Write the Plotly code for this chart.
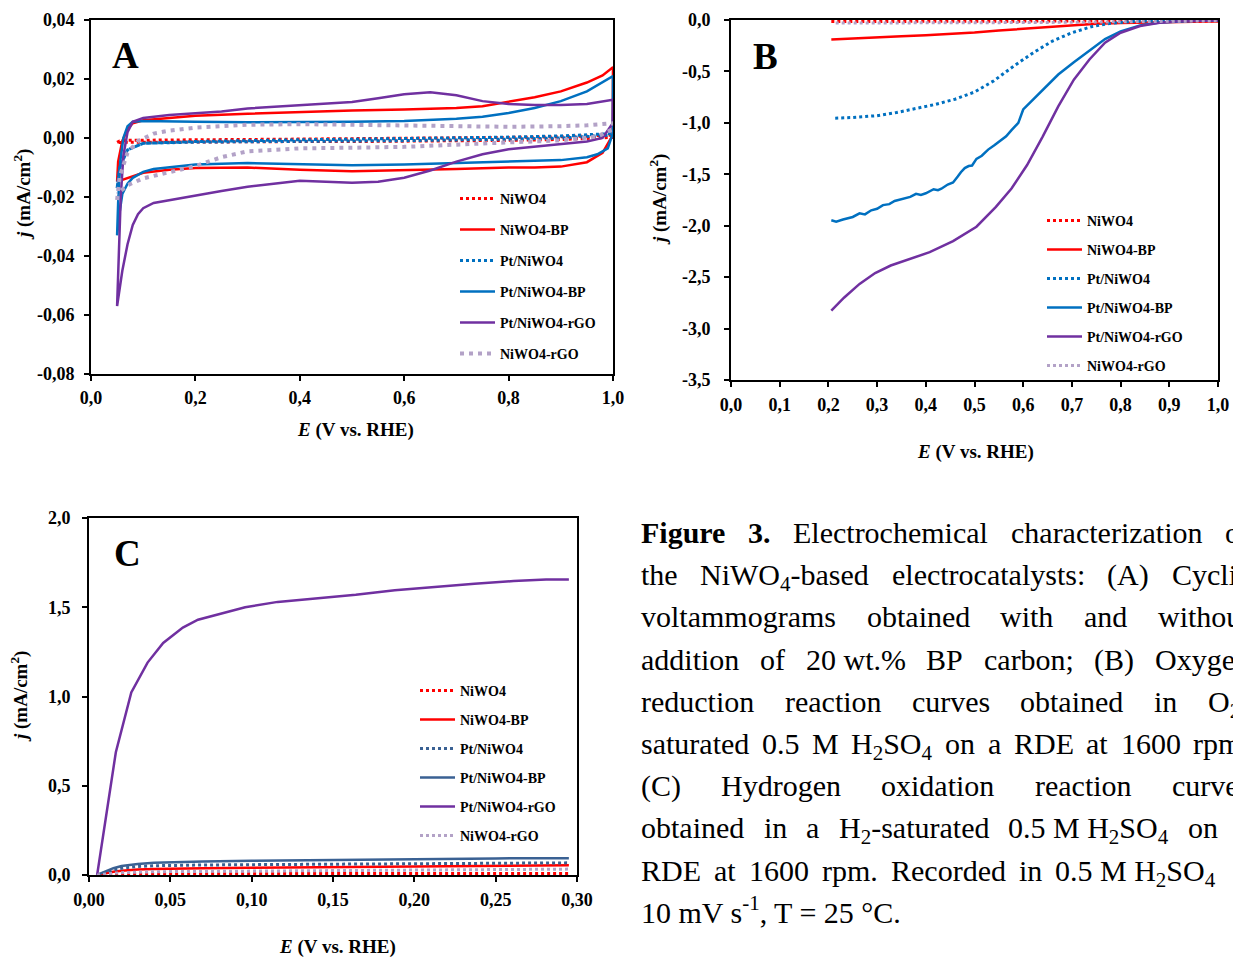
import re
import plotly.graph_objects as go

W, H = 1233, 958
FONT = "Liberation Serif"

# ---------------- Panel A : cyclic voltammograms ----------------
a_nio_x = [0.05, 0.055, 0.07, 0.1, 0.2, 0.3, 0.4, 0.5, 0.6, 0.7, 0.8, 0.9, 0.95, 1.0,
           1.0, 0.95, 0.9, 0.8, 0.7, 0.6, 0.5, 0.4, 0.3, 0.2, 0.1, 0.07, 0.055, 0.05]
a_nio_y = [-0.0015, -0.0010, -0.0008, -0.0007, -0.0006, -0.0005, -0.0004, -0.0003, -0.0002, 0.0, 0.0002, 0.0004, 0.0006, 0.0010,
           0.0002, -0.0002, -0.0005, -0.0008, -0.0010, -0.0011, -0.0012, -0.0012, -0.0013, -0.0013, -0.0013, -0.0014, -0.0015, -0.0015]

a_bp_x = [0.05, 0.052, 0.06, 0.07, 0.08, 0.1, 0.15, 0.2, 0.3, 0.4, 0.5, 0.6, 0.7, 0.75, 0.8, 0.85, 0.9, 0.95, 0.98, 1.0,
          0.9995, 0.98, 0.95, 0.9, 0.85, 0.8, 0.7, 0.6, 0.5, 0.4, 0.3, 0.2, 0.15, 0.1, 0.07, 0.05]
a_bp_y = [-0.0148, -0.008, -0.001, 0.003, 0.005, 0.006, 0.0068, 0.0075, 0.0082, 0.0088, 0.0093, 0.0097, 0.0102, 0.0108, 0.0122, 0.0138, 0.0158, 0.0188, 0.0212, 0.0240,
          0.0010, -0.0050, -0.0082, -0.0097, -0.0100, -0.0100, -0.0105, -0.0110, -0.0113, -0.0108, -0.0100, -0.0102, -0.0108, -0.0118, -0.0135, -0.0148]

a_pt_x = [0.05, 0.055, 0.07, 0.1, 0.2, 0.3, 0.4, 0.5, 0.6, 0.7, 0.8, 0.9, 0.95, 1.0,
          1.0, 0.95, 0.9, 0.8, 0.7, 0.6, 0.5, 0.4, 0.3, 0.2, 0.1, 0.07, 0.055, 0.05]
a_pt_y = [-0.017, -0.010, -0.004, -0.0018, -0.0012, -0.0008, -0.0006, -0.0004, -0.0002, 0.0, 0.0003, 0.0007, 0.0010, 0.0015,
          0.0010, 0.0004, 0.0, -0.0004, -0.0007, -0.0009, -0.0010, -0.0011, -0.0012, -0.0014, -0.0018, -0.004, -0.010, -0.017]

a_ptbp_x = [0.05, 0.052, 0.056, 0.062, 0.07, 0.08, 0.1, 0.15, 0.2, 0.3, 0.4, 0.5, 0.6, 0.7, 0.75, 0.8, 0.85, 0.9, 0.95, 1.0,
            0.9995, 0.99, 0.97, 0.95, 0.9, 0.8, 0.7, 0.6, 0.5, 0.4, 0.3, 0.2, 0.15, 0.12, 0.1, 0.08, 0.07, 0.06, 0.055, 0.05]
a_ptbp_y = [-0.033, -0.022, -0.008, 0.0, 0.004, 0.0055, 0.0058, 0.0056, 0.0055, 0.0053, 0.0053, 0.0055, 0.0058, 0.0065, 0.0072, 0.0085, 0.0102, 0.0125, 0.0158, 0.0210,
            0.0015, -0.0035, -0.0055, -0.0065, -0.0075, -0.0080, -0.0085, -0.0090, -0.0092, -0.0088, -0.0085, -0.0090, -0.0098, -0.0105, -0.0115, -0.0135, -0.0155, -0.019, -0.025, -0.033]

a_rgo_x = [0.05, 0.053, 0.057, 0.062, 0.07, 0.08, 0.1, 0.15, 0.2, 0.25, 0.3, 0.4, 0.5, 0.55, 0.6, 0.65, 0.7, 0.75, 0.8, 0.85, 0.9, 0.95, 1.0,
           0.9995, 0.98, 0.95, 0.9, 0.85, 0.8, 0.75, 0.7, 0.65, 0.6, 0.55, 0.5, 0.45, 0.4, 0.35, 0.3, 0.25, 0.2, 0.15, 0.12, 0.1, 0.09, 0.08, 0.07, 0.06, 0.05]
a_rgo_y = [-0.057, -0.040, -0.020, -0.006, 0.002, 0.0055, 0.0068, 0.0078, 0.0085, 0.0090, 0.0100, 0.0110, 0.0122, 0.0135, 0.0148, 0.0155, 0.0145, 0.0125, 0.0115, 0.0112, 0.0112, 0.0115, 0.0130,
           0.0050, 0.0, -0.0012, -0.0020, -0.0028, -0.0038, -0.0055, -0.0080, -0.0110, -0.0135, -0.0148, -0.0152, -0.0148, -0.0145, -0.0155, -0.0165, -0.0180, -0.0195, -0.0210, -0.0220, -0.0238, -0.0258, -0.0295, -0.0360, -0.0450, -0.0570]

a_nrgo_x = [0.05, 0.055, 0.07, 0.09, 0.12, 0.15, 0.2, 0.3, 0.4, 0.5, 0.6, 0.7, 0.8, 0.9, 0.95, 1.0,
            0.9995, 0.97, 0.9, 0.8, 0.7, 0.6, 0.5, 0.4, 0.3, 0.25, 0.2, 0.15, 0.1, 0.07, 0.05]
a_nrgo_y = [-0.021, -0.013, -0.005, -0.001, 0.0015, 0.0025, 0.0035, 0.0045, 0.0047, 0.0045, 0.0043, 0.0040, 0.0038, 0.0040, 0.0043, 0.0050,
            0.0030, 0.0005, -0.0008, -0.0015, -0.0022, -0.0030, -0.0033, -0.0035, -0.0045, -0.0065, -0.0095, -0.0115, -0.0137, -0.0160, -0.0190]

# ---------------- Panel B : ORR curves ----------------
b_nio_x = [0.206, 0.3, 0.4, 0.5, 0.6, 0.7, 0.8, 0.9, 1.0]
b_nio_y = [-0.015, -0.015, -0.014, -0.014, -0.013, -0.012, -0.010, -0.008, -0.006]
b_bp_x = [0.206, 0.25, 0.3, 0.35, 0.4, 0.45, 0.5, 0.55, 0.6, 0.65, 0.7, 0.75, 0.8, 0.85, 0.9, 0.95, 1.0]
b_bp_y = [-0.189, -0.178, -0.168, -0.158, -0.148, -0.136, -0.122, -0.102, -0.085, -0.066, -0.050, -0.037, -0.028, -0.022, -0.018, -0.016, -0.015]
b_pt_x = [0.214, 0.25, 0.3, 0.34, 0.38, 0.42, 0.46, 0.5, 0.54, 0.58, 0.62, 0.66, 0.7, 0.74, 0.78, 0.82, 0.86, 0.9, 0.95, 1.0]
b_pt_y = [-0.955, -0.948, -0.93, -0.90, -0.86, -0.82, -0.77, -0.70, -0.59, -0.45, -0.32, -0.205, -0.124, -0.065, -0.033, -0.016, -0.008, -0.005, -0.004, -0.003]
b_ptbp_x = [0.206, 0.216, 0.23, 0.25, 0.264, 0.275, 0.288, 0.30, 0.312, 0.325, 0.336, 0.35, 0.368, 0.38, 0.39, 0.40, 0.416, 0.425,
            0.432, 0.445, 0.456, 0.466, 0.472, 0.48, 0.488, 0.495, 0.504, 0.515, 0.528, 0.54, 0.552, 0.565, 0.576, 0.59, 0.6,
            0.624, 0.648, 0.672, 0.704, 0.736, 0.768, 0.8, 0.84, 0.88, 0.92, 0.96, 1.0]
b_ptbp_y = [-1.947, -1.96, -1.94, -1.915, -1.88, -1.89, -1.85, -1.835, -1.80, -1.79, -1.76, -1.74, -1.72, -1.69, -1.70, -1.685, -1.645, -1.655,
            -1.64, -1.60, -1.58, -1.52, -1.48, -1.44, -1.42, -1.415, -1.35, -1.32, -1.26, -1.22, -1.18, -1.13, -1.07, -1.00, -0.87,
            -0.76, -0.65, -0.53, -0.41, -0.295, -0.185, -0.11, -0.052, -0.024, -0.012, -0.007, -0.005]
b_rgo_x = [0.206, 0.232, 0.264, 0.296, 0.328, 0.368, 0.408, 0.456, 0.504, 0.544, 0.576, 0.608, 0.64, 0.672, 0.704, 0.736, 0.768, 0.8, 0.84, 0.88, 0.92, 0.96, 1.0]
b_rgo_y = [-2.826, -2.70, -2.566, -2.46, -2.387, -2.32, -2.257, -2.15, -2.01, -1.817, -1.638, -1.41, -1.133, -0.84, -0.58, -0.384, -0.22, -0.124, -0.059, -0.026, -0.012, -0.007, -0.005]
b_nrgo_x = [0.215, 0.3, 0.4, 0.5, 0.6, 0.7, 0.8, 0.9, 1.0]
b_nrgo_y = [-0.03, -0.03, -0.028, -0.027, -0.025, -0.022, -0.018, -0.012, -0.008]

# ---------------- Panel C : HOR curves ----------------
c_x = [0.005, 0.01, 0.015, 0.02, 0.025, 0.03, 0.04, 0.05, 0.07, 0.1, 0.15, 0.2, 0.25, 0.295]
c_nio_y = [0.0, 0.003, 0.005, 0.006, 0.007, 0.007, 0.008, 0.008, 0.008, 0.008, 0.009, 0.009, 0.009, 0.009]
c_bp_y = [0.0, 0.010, 0.018, 0.024, 0.028, 0.031, 0.034, 0.036, 0.038, 0.040, 0.044, 0.048, 0.052, 0.054]
c_pt_y = [0.0, 0.015, 0.028, 0.038, 0.044, 0.048, 0.052, 0.054, 0.056, 0.058, 0.061, 0.064, 0.067, 0.068]
c_ptbp_y = [0.0, 0.020, 0.038, 0.050, 0.057, 0.062, 0.068, 0.072, 0.076, 0.080, 0.085, 0.089, 0.093, 0.094]
c_nrgo_y = [0.0, 0.006, 0.010, 0.013, 0.015, 0.016, 0.018, 0.019, 0.020, 0.022, 0.025, 0.028, 0.031, 0.033]
c_rgo_x = [0.005, 0.0165, 0.026, 0.036, 0.0456, 0.0577, 0.067, 0.079, 0.096, 0.116, 0.14, 0.164, 0.188, 0.213, 0.237, 0.261, 0.281, 0.295]
c_rgo_y = [0.0, 0.688, 1.023, 1.19, 1.30, 1.386, 1.43, 1.46, 1.50, 1.53, 1.55, 1.57, 1.595, 1.615, 1.632, 1.647, 1.656, 1.656]

series_names = ["NiWO4", "NiWO4-BP", "Pt/NiWO4", "Pt/NiWO4-BP", "Pt/NiWO4-rGO", "NiWO4-rGO"]

# tick labels
a_xticks = [0, 0.2, 0.4, 0.6, 0.8, 1.0]
a_xtext = ["0,0", "0,2", "0,4", "0,6", "0,8", "1,0"]
a_yticks = [0.04, 0.02, 0.0, -0.02, -0.04, -0.06, -0.08]
a_ytext = ["0,04", "0,02", "0,00", "-0,02", "-0,04", "-0,06", "-0,08"]
b_xticks = [0, 0.1, 0.2, 0.3, 0.4, 0.5, 0.6, 0.7, 0.8, 0.9, 1.0]
b_xtext = ["0,0", "0,1", "0,2", "0,3", "0,4", "0,5", "0,6", "0,7", "0,8", "0,9", "1,0"]
b_yticks = [0, -0.5, -1.0, -1.5, -2.0, -2.5, -3.0, -3.5]
b_ytext = ["0,0", "-0,5", "-1,0", "-1,5", "-2,0", "-2,5", "-3,0", "-3,5"]
c_xticks = [0, 0.05, 0.10, 0.15, 0.20, 0.25, 0.30]
c_xtext = ["0,00", "0,05", "0,10", "0,15", "0,20", "0,25", "0,30"]
c_yticks = [0, 0.5, 1.0, 1.5, 2.0]
c_ytext = ["0,0", "0,5", "1,0", "1,5", "2,0"]

# caption (justified lines; the last line is set ragged)
caption_lines = [
    ["<b>Figure</b>", "<b>3.</b>", "Electrochemical", "characterization", "of"],
    ["the", "NiWO<sub>4</sub>-based", "electrocatalysts:", "(A)", "Cyclic"],
    ["voltammograms", "obtained", "with", "and", "without"],
    ["addition", "of", "20 wt.%", "BP", "carbon;", "(B)", "Oxygen"],
    ["reduction", "reaction", "curves", "obtained", "in", "O<sub>2</sub>-"],
    ["saturated", "0.5", "M", "H<sub>2</sub>SO<sub>4</sub>", "on", "a", "RDE", "at", "1600", "rpm;"],
    ["(C)", "Hydrogen", "oxidation", "reaction", "curves"],
    ["obtained", "in", "a", "H<sub>2</sub>-saturated", "0.5 M H<sub>2</sub>SO<sub>4</sub>", "on", "a"],
    ["RDE", "at", "1600", "rpm.", "Recorded", "in", "0.5 M H<sub>2</sub>SO<sub>4</sub>", "at"],
    ["10 mV s<sup>-1</sup>, T = 25 °C."],
]
caption_baseline = [543, 585, 627, 670, 712, 754, 796, 838, 881, 923]
CAP_LEFT, CAP_RIGHT, CAP_SIZE = 641, 1250, 30
VISIBLE_EDGE = 1227  # words of the column that start beyond the page crop are not visible

# Times-compatible advance widths (per 1000 em) for measuring the caption words
TIMES_REG = {" ": 250, "%": 833, "(": 333, ")": 333, ",": 250, "-": 333, ".": 250, "/": 278, ":": 278,
             ";": 278, "=": 564, "°": 400,
             "A": 722, "B": 667, "C": 667, "D": 722, "E": 611, "F": 556, "G": 722, "H": 722, "I": 333,
             "M": 889, "N": 722, "O": 722, "P": 556, "R": 667, "S": 556, "T": 611, "V": 722, "W": 944,
             "a": 444, "b": 500, "c": 444, "d": 500, "e": 444, "f": 333, "g": 500, "h": 500, "i": 278,
             "l": 278, "m": 778, "n": 500, "o": 500, "p": 500, "r": 333, "s": 389, "t": 278, "u": 500,
             "v": 500, "w": 722, "x": 500, "y": 500, "z": 444}
TIMES_BOLD = {" ": 250, ".": 250, "F": 611, "i": 278, "g": 500, "u": 556, "r": 444, "e": 444}


def text_width(markup, size):
    w = 0.0
    bold = False
    scale = 1.0
    for part in re.split(r"(<[^>]+>)", markup):
        if not part:
            continue
        if part.startswith("<"):
            tag = part.strip("<>/").lower()
            closing = part.startswith("</")
            if tag == "b":
                bold = not closing
            elif tag in ("sub", "sup"):
                scale = 1.0 if closing else 0.7
            continue
        table = TIMES_BOLD if bold else TIMES_REG
        for ch in part:
            if ch.isdigit():
                w += 500 * scale
            else:
                w += table.get(ch, TIMES_REG.get(ch, 500)) * scale
    return w * size / 1000.0


RED = "#FF0000"
BLUE = "#0070C0"
DBLUE = "#3A6193"
PURPLE = "#7030A0"
LAV = "#B3A2C7"


def px(x):
    return x / W


def py(y):
    return 1 - y / H


fig = go.Figure()


def add(x, y, name, color, dash, width, xa, ya, leg):
    fig.add_trace(go.Scatter(
        x=x, y=y, mode="lines", name=name, legendgroup=leg + name, legend=leg,
        line=dict(color=color, dash=dash, width=width), xaxis=xa, yaxis=ya,
    ))


DOT = "3px,3px"
LDOT = "4px,5px"
# Panel A
add(a_nio_x, a_nio_y, series_names[0], RED, DOT, 3, "x", "y", "legend")
add(a_bp_x, a_bp_y, series_names[1], RED, "solid", 2.5, "x", "y", "legend")
add(a_pt_x, a_pt_y, series_names[2], BLUE, DOT, 3, "x", "y", "legend")
add(a_ptbp_x, a_ptbp_y, series_names[3], BLUE, "solid", 2.5, "x", "y", "legend")
add(a_rgo_x, a_rgo_y, series_names[4], PURPLE, "solid", 2.5, "x", "y", "legend")
add(a_nrgo_x, a_nrgo_y, series_names[5], LAV, LDOT, 4, "x", "y", "legend")
# Panel B
add(b_nio_x, b_nio_y, series_names[0], RED, DOT, 3, "x2", "y2", "legend2")
add(b_bp_x, b_bp_y, series_names[1], RED, "solid", 2.5, "x2", "y2", "legend2")
add(b_pt_x, b_pt_y, series_names[2], BLUE, DOT, 3, "x2", "y2", "legend2")
add(b_ptbp_x, b_ptbp_y, series_names[3], BLUE, "solid", 2.5, "x2", "y2", "legend2")
add(b_rgo_x, b_rgo_y, series_names[4], PURPLE, "solid", 2.5, "x2", "y2", "legend2")
add(b_nrgo_x, b_nrgo_y, series_names[5], LAV, DOT, 3, "x2", "y2", "legend2")
# Panel C
add(c_x, c_nio_y, series_names[0], RED, DOT, 3, "x3", "y3", "legend3")
add(c_x, c_bp_y, series_names[1], RED, "solid", 2.5, "x3", "y3", "legend3")
add(c_x, c_pt_y, series_names[2], DBLUE, DOT, 3, "x3", "y3", "legend3")
add(c_x, c_ptbp_y, series_names[3], DBLUE, "solid", 2.5, "x3", "y3", "legend3")
add(c_rgo_x, c_rgo_y, series_names[4], PURPLE, "solid", 2.5, "x3", "y3", "legend3")
add(c_x, c_nrgo_y, series_names[5], LAV, DOT, 3, "x3", "y3", "legend3")

tickfont = dict(family=FONT, size=18, color="black", weight="bold")


def axis(dom, rng, tv, tt, anchor, standoff):
    return dict(domain=dom, range=rng, tickvals=tv, ticktext=tt, anchor=anchor,
                showline=True, linecolor="black", linewidth=2, mirror=True,
                ticks="outside", ticklen=5, tickwidth=1.5, tickcolor="black",
                showgrid=False, zeroline=False, tickfont=tickfont, automargin=False,
                ticklabelstandoff=standoff, fixedrange=True)


fig.update_layout(
    width=W, height=H, margin=dict(l=0, r=0, t=0, b=0, autoexpand=False),
    paper_bgcolor="white", plot_bgcolor="white", showlegend=True,
    xaxis=axis([px(91), px(613)], [0, 1], a_xticks, a_xtext, "y", 1),
    yaxis=axis([py(374), py(20)], [-0.08, 0.04], a_yticks, a_ytext, "x", 6),
    xaxis2=axis([px(731), px(1218)], [0, 1], b_xticks, b_xtext, "y2", 2),
    yaxis2=axis([py(380), py(20)], [-3.5, 0], b_yticks, b_ytext, "x2", 10),
    xaxis3=axis([px(89), px(577)], [0, 0.3], c_xticks, c_xtext, "y3", 2),
    yaxis3=axis([py(875), py(518)], [0, 2], c_yticks, c_ytext, "x3", 8),
)

legfont = dict(family=FONT, size=14, color="black", weight="bold")
fig.update_layout(
    legend=dict(x=px(455), y=py(183), xanchor="left", yanchor="top", font=legfont,
                bgcolor="rgba(0,0,0,0)", tracegroupgap=9.8, itemwidth=35),
    legend2=dict(x=px(1042), y=py(205), xanchor="left", yanchor="top", font=legfont,
                 bgcolor="rgba(0,0,0,0)", tracegroupgap=7.8, itemwidth=35),
    legend3=dict(x=px(415), y=py(675), xanchor="left", yanchor="top", font=legfont,
                 bgcolor="rgba(0,0,0,0)", tracegroupgap=7.8, itemwidth=35),
)

ann = []
# axis titles
ytitle = "<b><i>j</i> (mA/cm<sup>2</sup>)</b>"
xtitle = "<b><i>E</i> (V vs. RHE)</b>"
for (tx, ty) in [(22, 195), (658, 200), (19, 697)]:
    ann.append(dict(x=px(tx), y=py(ty), xref="paper", yref="paper", text=ytitle, textangle=-90,
                    showarrow=False, font=dict(family=FONT, size=19, color="black"),
                    xanchor="center", yanchor="middle"))
for (tx, ty) in [(355, 430), (975, 452), (337, 947)]:
    ann.append(dict(x=px(tx), y=py(ty), xref="paper", yref="paper", text=xtitle,
                    showarrow=False, font=dict(family=FONT, size=19, color="black"),
                    xanchor="center", yanchor="middle"))
# panel letters
for (lab, tx, ty) in [("A", 125, 56), ("B", 765, 57), ("C", 127, 553)]:
    ann.append(dict(x=px(tx), y=py(ty), xref="paper", yref="paper", text="<b>%s</b>" % lab,
                    showarrow=False, font=dict(family=FONT, size=37, color="black"),
                    xanchor="center", yanchor="middle"))

# caption: justified text, word by word
ASC, DESC = 0.891, 0.216
for li, (units, base) in enumerate(zip(caption_lines, caption_baseline)):
    widths = [text_width(u, CAP_SIZE) for u in units]
    last = li == len(caption_lines) - 1
    if last or len(units) == 1:
        gap = 0.25 * CAP_SIZE
    else:
        gap = (CAP_RIGHT - CAP_LEFT - sum(widths)) / (len(units) - 1)
    xx = CAP_LEFT
    for u, wdt in zip(units, widths):
        if xx <= VISIBLE_EDGE:
            if "<sup>" in u:
                yv, anc = base + DESC * CAP_SIZE, "bottom"
            else:
                yv, anc = base - ASC * CAP_SIZE, "top"
            ann.append(dict(x=px(xx), y=py(yv), xref="paper", yref="paper", text=u,
                            showarrow=False, font=dict(family=FONT, size=CAP_SIZE, color="black"),
                            xanchor="left", yanchor=anc, borderpad=0, borderwidth=0))
        xx += wdt + gap
fig.update_layout(annotations=ann)

fig.write_html("out.html", config={"displayModeBar": False},
               post_script="document.body.style.margin='0';document.body.style.overflow='hidden';")
